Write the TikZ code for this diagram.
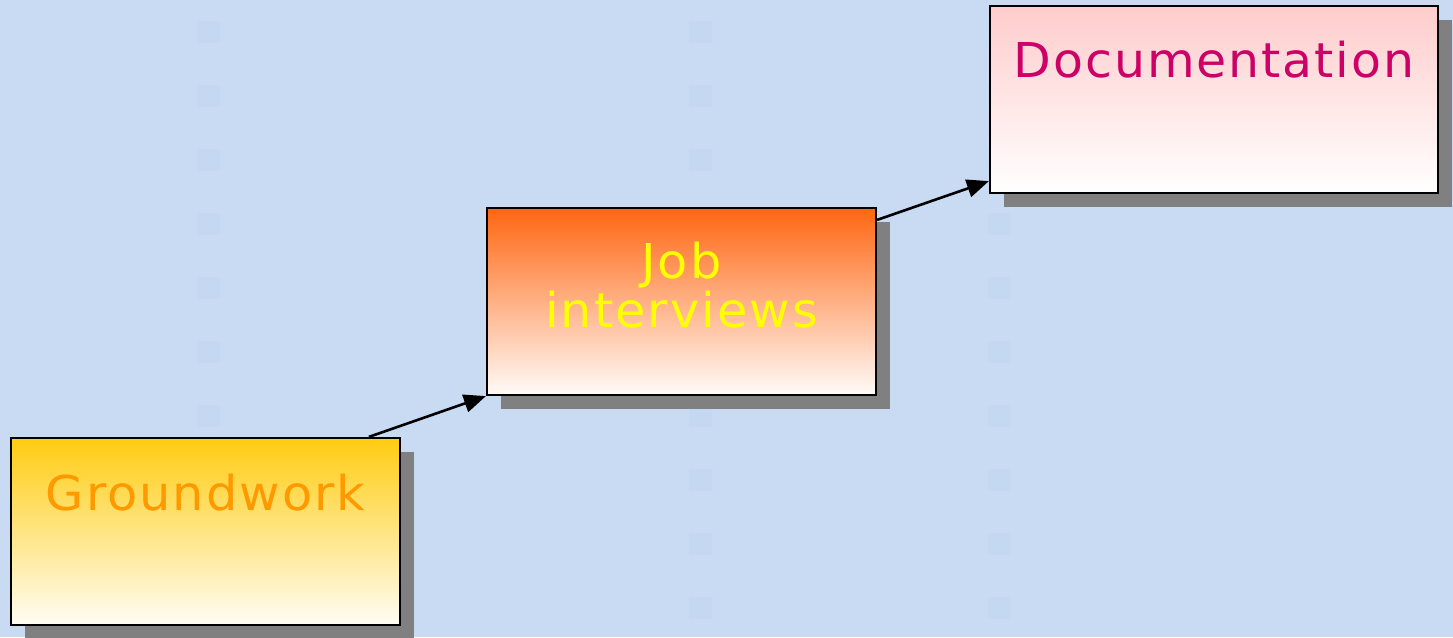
\documentclass[tikz,border=0pt]{standalone}
\usepackage{fontspec}
\newfontfamily\dv[LetterSpace=4.0]{DejaVu Sans}
\usetikzlibrary{shadows,calc,arrows.meta}
\definecolor{bg}{HTML}{C9DBF3}
\definecolor{sq}{HTML}{C5D8F1}
\definecolor{shadowgray}{HTML}{808080}
\definecolor{gtop}{HTML}{FFCC11}
\definecolor{gbot}{HTML}{FFFDF5}
\definecolor{jtop}{HTML}{FF6611}
\definecolor{jmid}{HTML}{FFA585}
\definecolor{jbot}{HTML}{FFFBF9}
\definecolor{dtop}{HTML}{FFCCCC}
\definecolor{dbot}{HTML}{FFFFFF}
\definecolor{gtext}{HTML}{FF9900}
\definecolor{jtext}{HTML}{FFFF00}
\definecolor{dtext}{HTML}{CC0066}
\begin{document}
\begin{tikzpicture}[x=1pt,y=-1pt,
  box/.style={draw=black, line width=2.2pt, rectangle, minimum height=187pt, inner sep=0pt,
    drop shadow={shadow xshift=14pt, shadow yshift=-14pt, fill=shadowgray, opacity=1}},
  lbl/.style={font=\dv\fontsize{48}{49}\selectfont, anchor=base, align=center, inner sep=0pt},
  arr/.style={line width=2.6pt, -{Triangle[length=22pt,width=18pt]}}
]
\fill[bg] (0,0) rectangle (1453,637);
\useasboundingbox (0,0) rectangle (1453,637);
\foreach \x in {208.5,700,999}{
  \foreach \y in {32,96,160,224,288,352,416,480,544,608}{
    \fill[sq] (\x-11.5,\y-11) rectangle ++(23,22);
  }
}
\node[box, minimum width=389pt, top color=gtop, bottom color=gbot] (g) at (205.5,531.5) {};
\node[box, minimum width=389pt, top color=jtop, middle color=jmid, bottom color=jbot] (j) at (681.5,301.5) {};
\node[box, minimum width=448pt, top color=dtop, bottom color=dbot] (d) at (1214,99.5) {};
\node[lbl, text=gtext, xscale=1.03] (gt) at ($(g.north)+(0,74)$) {Groundwork};
\node[lbl, text=jtext, xscale=1.03] (jt) at ($(j.north)+(0,121)$) {Job\\interviews};
\node[lbl, text=dtext, xscale=1.02] (dt) at ($(d.north)+(0,73)$) {Documentation};
\coordinate (ga) at ($(g.north west)+(359,0)$);
\coordinate (ja) at ($(j.north east)+(0,13)$);
\coordinate (da) at ($(d.south west)+(0,-13)$);
\draw[arr] (ga) -- (j.south west);
\draw[arr] (ja) -- (da);
\end{tikzpicture}
\end{document}
